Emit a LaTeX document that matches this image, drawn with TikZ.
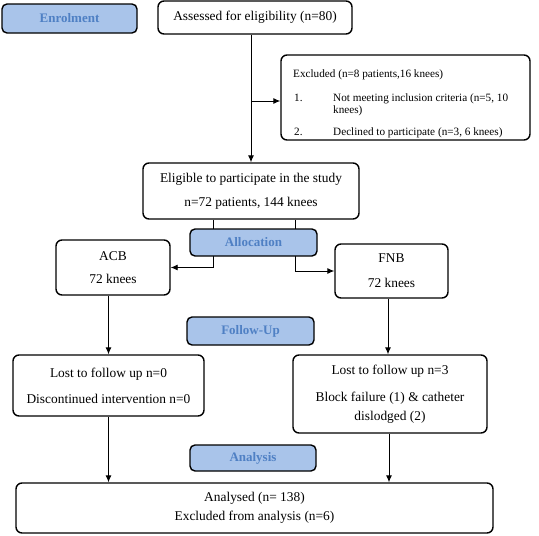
\documentclass[tikz,border=0pt]{standalone}
\usepackage{fontspec}
\setmainfont{Liberation Serif}
\usetikzlibrary{arrows.meta}
\definecolor{lblfill}{HTML}{A9C4EA}
\definecolor{lbltext}{HTML}{4F80C4}
\tikzset{
  box/.style={draw, line width=1.4pt, rounded corners=6pt, fill=white, inner sep=0pt,
    align=center, font=\fontsize{13.4}{19}\selectfont},
  lbl/.style={draw, line width=1.4pt, rounded corners=5pt, fill=lblfill, inner sep=0pt,
    text=lbltext, font=\fontsize{13}{15}\selectfont\bfseries},
  exl/.style={anchor=base west, inner sep=0pt, font=\fontsize{11.2}{12}\selectfont},
  conn/.style={line width=0.9pt},
  arr/.style={conn, -{Latex[length=7pt,width=6pt]}}
}
\begin{document}
\begin{tikzpicture}[x=1pt,y=-1pt]
\useasboundingbox (0,0) rectangle (539,536);
% main boxes
\node[box, minimum width=194pt, minimum height=33pt] (assessed) at (255,17.5) {Assessed for eligibility (n=80)};
\node[box, draw, minimum width=249pt, minimum height=85pt] (excl) at (405.5,97.5) {};
\node[exl] (ex0) at (293,77) {Excluded (n=8 patients,16 knees)};
\node[exl] (ex1) at (294,101) {1.};
\node[exl] (ex1a) at (333,101) {Not meeting inclusion criteria (n=5, 10};
\node[exl] (ex1b) at (333,113) {knees)};
\node[exl] (ex2) at (294,135) {2.};
\node[exl] (ex2a) at (333,135) {Declined to participate (n=3, 6 knees)};
\node[box, minimum width=216pt, minimum height=56pt] (elig) at (251,191) {Eligible to participate in the study\\[5pt]n=72 patients, 144 knees};
\node[box, minimum width=114pt, minimum height=55pt] (acb) at (113,267.5) {ACB\\[4pt]72 knees};
\node[box, minimum width=113pt, minimum height=54pt] (fnb) at (391.5,271) {FNB\\[6pt]72 knees};
\node[box, minimum width=191pt, minimum height=61pt] (lostl) at (108.5,385.5) {Lost to follow up n=0\\[7pt]Discontinued intervention n=0};
\node[box, minimum width=194pt, minimum height=78pt] (lostr) at (390,394) {Lost to follow up n=3\\[8pt]Block failure (1) \& catheter\\dislodged (2)};
\node[box, minimum width=477pt, minimum height=50pt] (anal) at (254.5,508) {Analysed (n= 138)\\Excluded from analysis (n=6)};
% connectors
\coordinate (br) at (251,101);
\draw[arr] (elig.north |- assessed.south) -- (elig.north);
\draw[arr] (br) -- (br -| excl.west);
\draw[arr] ([xshift=-38pt]elig.south) |- (acb.east);
\draw[arr] ([xshift=44pt]elig.south) |- (fnb.west);
\draw[arr] (lostl.north |- acb.south) -- (lostl.north);
\draw[arr] ([xshift=-2pt]lostr.north |- fnb.south) -- ([xshift=-2pt]lostr.north);
\draw[arr] (lostl.south) -- (lostl.south |- anal.north);
\draw[arr] ([xshift=-1pt]lostr.south) -- ([xshift=-1pt]lostr.south |- anal.north);
% stage labels
\node[lbl, minimum width=135pt, minimum height=29pt] (enrol) at (69.5,18.5) {Enrolment};
\node[lbl, minimum width=127pt, minimum height=27pt] (alloc) at (253.5,242.5) {Allocation};
\node[lbl, minimum width=127pt, minimum height=28pt] (follow) at (250.5,331) {Follow-Up};
\node[lbl, minimum width=126pt, minimum height=26pt] (analysis) at (253,458) {Analysis};
\end{tikzpicture}
\end{document}
